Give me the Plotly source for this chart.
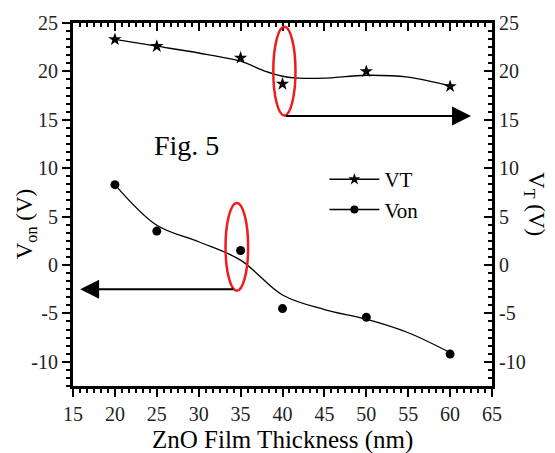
import plotly.graph_objects as go

# ---- data ----
thickness = [20, 25, 35, 40, 50, 60]
vt_values = [23.3, 22.6, 21.4, 18.7, 20.0, 18.45]
von_values = [8.3, 3.5, 1.5, -4.5, -5.4, -9.2]

# smooth guide curves
vt_fit_x = [20, 25, 30, 35, 38, 40, 42, 45, 50, 55, 60]
vt_fit_y = [23.3, 22.6, 21.9, 21.05, 20.0, 19.5, 19.3, 19.3, 19.6, 19.4, 18.5]
von_fit_x = [20, 25, 30, 35, 40, 45, 50, 55, 60]
von_fit_y = [8.3, 4.1, 2.4, 0.5, -3.1, -4.6, -5.6, -7.0, -9.05]

x_ticks = [15, 20, 25, 30, 35, 40, 45, 50, 55, 60, 65]
x_labels = ["15", "20", "25", "30", "35", "40", "45", "50", "55", "60", "65"]
y_ticks = [-10, -5, 0, 5, 10, 15, 20, 25]
y_labels = ["-10", "-5", "0", "5", "10", "15", "20", "25"]
minor_step = 5 / 6

FONT = "Liberation Serif, Times New Roman, serif"
BLACK = "black"
RED = "#ee1c1c"

x_minor = [15 + k * minor_step for k in range(0, 61)]
y_minor = [-12.5 + k * minor_step for k in range(0, 46)]
y_minor = [v for v in y_minor if -12.5 <= v <= 25.001]

fig = go.Figure()

fig.add_trace(go.Scatter(x=vt_fit_x, y=vt_fit_y, mode="lines",
                         line=dict(color=BLACK, width=1.3, shape="spline", smoothing=0.9),
                         showlegend=False, hoverinfo="skip"))
fig.add_trace(go.Scatter(x=von_fit_x, y=von_fit_y, mode="lines",
                         line=dict(color=BLACK, width=1.3, shape="spline", smoothing=1.0),
                         showlegend=False, hoverinfo="skip"))
fig.add_trace(go.Scatter(x=thickness, y=vt_values, mode="markers",
                         marker=dict(symbol="star", size=10, color=BLACK),
                         showlegend=False))
fig.add_trace(go.Scatter(x=thickness, y=von_values, mode="markers",
                         marker=dict(symbol="circle", size=9, color=BLACK),
                         showlegend=False))
# legend samples
fig.add_trace(go.Scatter(x=[None], y=[None], mode="lines+markers", name="VT",
                         line=dict(color=BLACK, width=1.5),
                         marker=dict(symbol="star", size=9, color=BLACK)))
fig.add_trace(go.Scatter(x=[None], y=[None], mode="lines+markers", name="Von",
                         line=dict(color=BLACK, width=1.5),
                         marker=dict(symbol="circle", size=8, color=BLACK)))

# ellipses
fig.add_shape(type="circle", xref="x", yref="y", x0=38.9, x1=41.55, y0=15.45, y1=24.6,
              line=dict(color=RED, width=2.5))
fig.add_shape(type="circle", xref="x", yref="y", x0=33.2, x1=35.9, y0=-2.65, y1=6.4,
              line=dict(color=RED, width=2.5))

# arrows
fig.add_annotation(x=62.5, y=15.4, ax=40.2, ay=15.4, xref="x", yref="y", axref="x", ayref="y",
                   showarrow=True, arrowhead=2, arrowsize=1.9, arrowwidth=2, arrowcolor=BLACK, text="")
fig.add_annotation(x=15.85, y=-2.5, ax=34.3, ay=-2.5, xref="x", yref="y", axref="x", ayref="y",
                   showarrow=True, arrowhead=2, arrowsize=1.9, arrowwidth=2, arrowcolor=BLACK, text="")

fig.add_annotation(x=28.6, y=12.35, xref="x", yref="y", text="Fig. 5", showarrow=False,
                   font=dict(family=FONT, size=28, color=BLACK))

# axis titles
fig.add_annotation(x=-0.15, y=0.446, xref="paper", yref="paper", text="V<sub>on</sub> (V)",
                   textangle=-90, showarrow=False, font=dict(family=FONT, size=23, color=BLACK))
fig.add_annotation(x=1.142, y=0.50, xref="paper", yref="paper", text="V<sub>T</sub> (V)",
                   textangle=90, showarrow=False, font=dict(family=FONT, size=23, color=BLACK))
fig.add_annotation(x=0.5, y=-0.148, xref="paper", yref="paper", text="ZnO Film Thickness (nm)",
                   showarrow=False, yanchor="middle", font=dict(family=FONT, size=25, color=BLACK))

axis_common = dict(showgrid=False, zeroline=False, showline=True, linecolor=BLACK, linewidth=3,
                   ticklen=8, tickwidth=2, tickcolor=BLACK, tickmode="array",
                   tickfont=dict(family=FONT, size=20, color="#222"))

def minor(vals, direction):
    return dict(tickmode="array", tickvals=vals, ticks=direction, ticklen=4, tickwidth=2,
                tickcolor=BLACK, showgrid=False)

fig.update_layout(
    width=555, height=453,
    margin=dict(l=73, r=63, t=18, b=67),
    paper_bgcolor="white", plot_bgcolor="white",
    font=dict(family=FONT, color=BLACK),
    xaxis=dict(range=[15, 65], tickvals=x_ticks, ticktext=x_labels, ticks="outside",
               minor=minor(x_minor, "outside"), **axis_common),
    xaxis2=dict(range=[15, 65], overlaying="x", side="top", anchor="y", matches="x",
                tickvals=x_ticks, ticks="inside", showticklabels=False,
                minor=minor(x_minor, "inside"), **axis_common),
    yaxis=dict(range=[-12.5, 25], tickvals=y_ticks, ticktext=y_labels, ticks="outside",
               minor=minor(y_minor, "outside"), **axis_common),
    yaxis2=dict(range=[-12.5, 25], overlaying="y", side="right", anchor="x", matches="y",
                tickvals=y_ticks, ticktext=y_labels, ticks="inside",
                minor=minor(y_minor, "inside"), **axis_common),
    legend=dict(x=0.60, y=0.625, xanchor="left", yanchor="top", bgcolor="rgba(0,0,0,0)",
                font=dict(family=FONT, size=21, color=BLACK), itemwidth=50, tracegroupgap=0),
    showlegend=True,
)

# dummy traces to activate the secondary axes
fig.add_trace(go.Scatter(x=[None], y=[None], xaxis="x2", yaxis="y", showlegend=False, hoverinfo="skip"))
fig.add_trace(go.Scatter(x=[None], y=[None], xaxis="x", yaxis="y2", showlegend=False, hoverinfo="skip"))

fig.write_html("out.html")
